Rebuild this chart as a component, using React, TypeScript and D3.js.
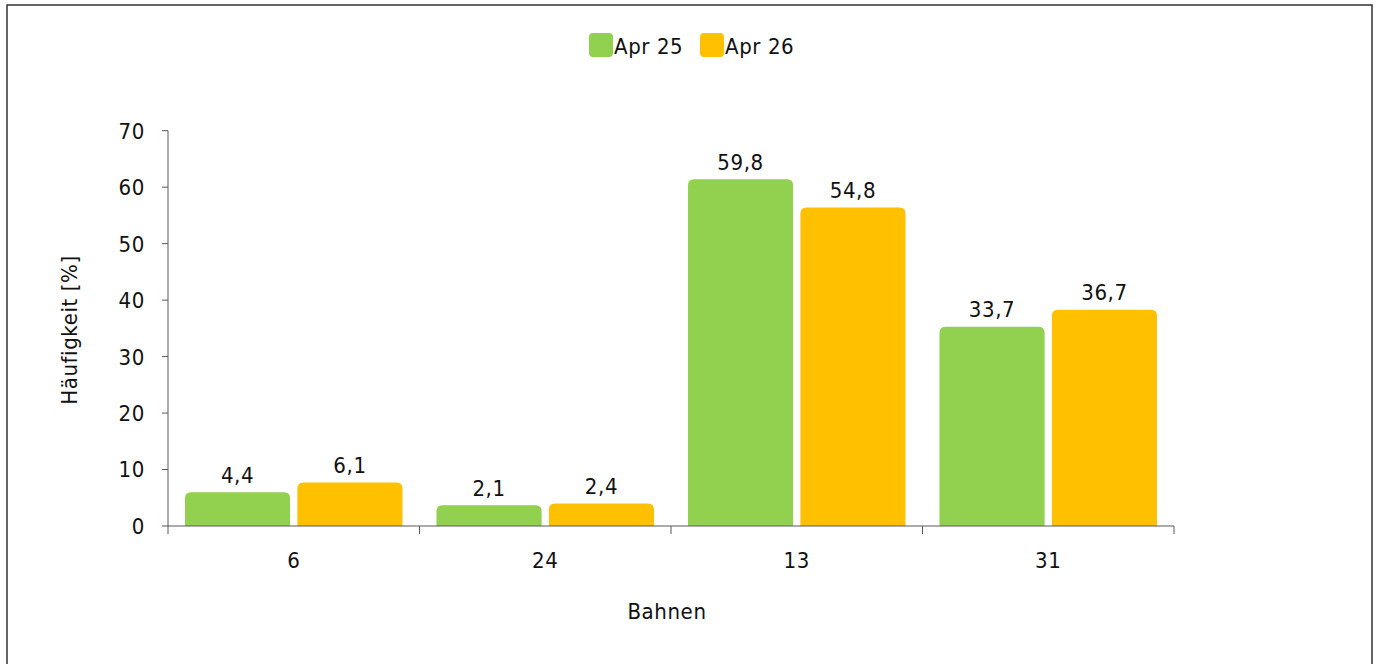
import * as d3 from "d3";

const categories = ["6", "24", "13", "31"];
const seriesNames = ["Apr 25", "Apr 26"];
const apr25 = [4.4, 2.1, 59.8, 33.7];
const apr26 = [6.1, 2.4, 54.8, 36.7];
const yTicks = [0, 10, 20, 30, 40, 50, 60, 70];
const colors = ["#92d050", "#ffc000"];

const W = 1378;
const H = 664;
const PLOT = { left: 168, right: 1174, top: 130.7, bottom: 526 };
const FONT = "'DejaVu Sans Condensed', 'Liberation Sans Narrow', 'DejaVu Sans', sans-serif";
const FS = 22;
// bars in the source overhang their value by a few pixels (rounded cap)
const BAR_CAP = 9;

const fmt = (v: number) => v.toFixed(1).replace(".", ",");

export default function App() {
  const x = d3.scaleBand<string>().domain(categories).range([PLOT.left, PLOT.right]).paddingInner(0).paddingOuter(0);
  const inner = d3
    .scaleBand<string>()
    .domain(seriesNames)
    .range([17, x.bandwidth() - 17])
    .paddingInner(0.065);
  const y = d3.scaleLinear().domain([0, 70]).range([PLOT.bottom, PLOT.top]);
  const series = [apr25, apr26];

  const barPath = (x0: number, w: number, top: number, bottom: number, r: number) =>
    `M${x0},${bottom}V${top + r}Q${x0},${top} ${x0 + r},${top}H${x0 + w - r}Q${x0 + w},${top} ${x0 + w},${top + r}V${bottom}Z`;

  const boundaries = [...categories.map((c) => x(c) ?? 0), PLOT.right];

  return (
    <svg
      width={W}
      height={H}
      style={{ position: "absolute", left: 0, top: 0, fontFamily: FONT, letterSpacing: "0.6px" }}
    >
      <rect x={7} y={5} width={1365} height={700} fill="#fff" stroke="#333" strokeWidth={1.5} />

      {/* legend */}
      {seriesNames.map((s, i) => {
        const lx = i === 0 ? 589 : 700;
        return (
          <g key={s}>
            <rect x={lx} y={33} width={24} height={24} rx={4} fill={colors[i]} />
            <text x={lx + 25} y={54} fontSize={FS} fill="#111">
              {s}
            </text>
          </g>
        );
      })}

      {/* y ticks and labels */}
      {yTicks.map((t) => (
        <g key={t}>
          <line x1={162} x2={PLOT.left} y1={y(t)} y2={y(t)} stroke="#595959" strokeWidth={1} />
          <text x={145} y={y(t)} dy="0.36em" textAnchor="end" fontSize={FS} fill="#111">
            {t}
          </text>
        </g>
      ))}
      <line x1={PLOT.left} x2={PLOT.left} y1={PLOT.top} y2={PLOT.bottom} stroke="#595959" strokeWidth={1} />

      {/* bars */}
      {categories.map((c, ci) =>
        series.map((vals, si) => {
          const bx = (x(c) ?? 0) + (inner(seriesNames[si]) ?? 0);
          const bw = inner.bandwidth();
          const top = y(vals[ci]) - BAR_CAP;
          return (
            <g key={c + si}>
              <path d={barPath(bx, bw, top, PLOT.bottom, 6)} fill={colors[si]} />
              <text x={bx + bw / 2} y={top - 9.5} textAnchor="middle" fontSize={FS} fill="#111">
                {fmt(vals[ci])}
              </text>
            </g>
          );
        })
      )}

      {/* x axis */}
      <line x1={PLOT.left} x2={PLOT.right} y1={PLOT.bottom} y2={PLOT.bottom} stroke="#595959" strokeWidth={1} />
      {boundaries.map((b, i) => (
        <line key={i} x1={b} x2={b} y1={PLOT.bottom} y2={PLOT.bottom + 8} stroke="#595959" strokeWidth={1} />
      ))}
      {categories.map((c) => (
        <text key={c} x={(x(c) ?? 0) + x.bandwidth() / 2} y={568} textAnchor="middle" fontSize={FS} fill="#111">
          {c}
        </text>
      ))}

      {/* axis titles */}
      <text x={667} y={619} textAnchor="middle" fontSize={FS} fill="#111">
        Bahnen
      </text>
      <text transform={`translate(77,330) rotate(-90)`} textAnchor="middle" fontSize={FS} fill="#111">
        Häufigkeit [%]
      </text>
    </svg>
  );
}
